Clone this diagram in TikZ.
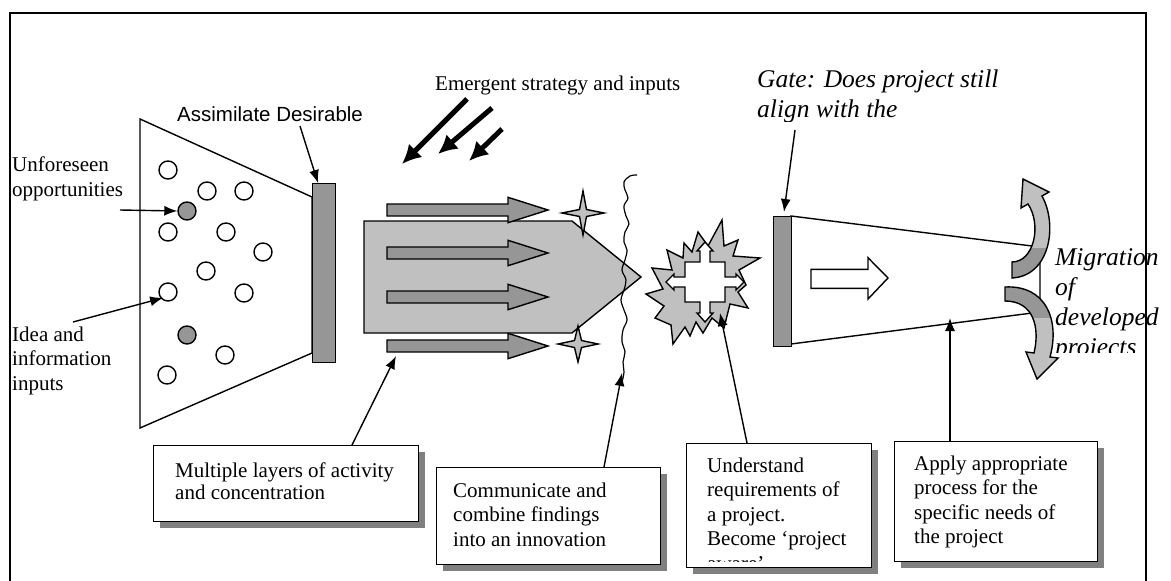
\documentclass[tikz,border=0pt]{standalone}
\usepackage{fontspec}
\setmainfont{Liberation Serif}
\newfontfamily\arialf{Liberation Sans}
\usetikzlibrary{arrows.meta,shadows,calc}
\definecolor{dgray}{HTML}{969696}
\definecolor{lgray}{HTML}{C0C0C0}
\definecolor{sgray}{HTML}{808080}
\newcommand\rmtxt{\fontsize{21}{24.5}\selectfont}
\newcommand\rmtxtb{\fontsize{21}{22.5}\selectfont}
\newcommand\ittxt{\fontsize{25.5}{30}\selectfont\itshape}
\newcommand\sftxt{\arialf\fontsize{20.5}{24}\selectfont}
\begin{document}
\begin{tikzpicture}[x=1pt,y=-1pt,line join=miter,
  ln/.style={line width=1.4pt},
  arr/.style={line width=1.4pt,-{Latex[length=13pt,width=10pt]}},
  bigarr/.style={line width=5pt,-{Latex[length=19pt,width=19pt]}},
  dot/.style={circle,draw,line width=1.4pt,minimum size=18pt,inner sep=0pt,fill=white},
  dotf/.style={dot,fill=dgray},
  bar/.style={draw,line width=1.4pt,fill=dgray,inner sep=0pt,anchor=north west},
  box/.style={draw,line width=1.4pt,fill=white,inner sep=0pt,anchor=north west,
    drop shadow={shadow xshift=6pt,shadow yshift=-6pt,fill=sgray,opacity=1}},
  txt/.style={inner sep=0pt,anchor=north west,align=left},
  btxt/.style={inner sep=0pt,anchor=base west}]
\useasboundingbox (0,0) rectangle (1171,581);
% frame
\draw[line width=1.5pt] (10,581) -- (10,13) -- (1146,13) -- (1146,581);

% left funnel
\draw[ln,fill=white] (140,119) -- (312,197) -- (312,353) -- (140,428) -- cycle;
\node[bar,minimum width=23pt,minimum height=179pt] (gateL) at (312,183) {};
\node[dot]  (c1)  at (168,170) {};
\node[dot]  (c2)  at (207,191) {};
\node[dot]  (c3)  at (244,191) {};
\node[dotf] (c4)  at (187,211) {};
\node[dot]  (c5)  at (168,232) {};
\node[dot]  (c6)  at (226,232) {};
\node[dot]  (c7)  at (263,252) {};
\node[dot]  (c8)  at (206,271) {};
\node[dot]  (c9)  at (168,292) {};
\node[dot]  (c10) at (244,293) {};
\node[dotf] (c11) at (187,335) {};
\node[dot]  (c12) at (225,355) {};
\node[dot]  (c13) at (167,375) {};

% left texts
\node[btxt,font=\sftxt] (assim) at (177,121) {Assimilate Desirable};
\node[txt,font=\rmtxt] (unf) at (12,{171.7-17.15}) {\strut Unforeseen\\opportunities};
\node[txt,font=\rmtxt] (idea) at (12,{341-17.15}) {\strut Idea and\\information\\inputs};
\coordinate (assimS) at (300,126);
\coordinate (unfE) at (120,210);
\coordinate (ideaE) at (73,322);
\draw[arr] (assimS) -- ($(gateL.north west)+(6,0)$);
\draw[arr] (unfE) -- (c4.west);
\draw[arr] (ideaE) -- ($(c9.south west)+(2,-1)$);

% emergent strategy
\node[btxt,font=\rmtxt] (emer) at (435,90) {Emergent strategy and inputs};
\coordinate (e1s) at (467,99);  \coordinate (e1t) at (402,164);
\coordinate (e2s) at (492,108); \coordinate (e2t) at (438,154);
\coordinate (e3s) at (502,129); \coordinate (e3t) at (469,161);
\draw[bigarr] (e1s) -- (e1t);
\draw[bigarr] (e2s) -- (e2t);
\draw[bigarr] (e3s) -- (e3t);

% big pentagon and layer arrows
\draw[ln,fill=lgray] (364,221) -- (572,221) -- (641,277) -- (572,333) -- (364,333) -- cycle;
\foreach \c in {210,253,297,346}{
  \draw[ln,fill=dgray] (387,\c-6) -- (508,\c-6) -- (508,\c-12.7) -- (548,\c) -- (508,\c+12.7) -- (508,\c+6) -- (387,\c+6) -- cycle;
}
\coordinate (m4) at (396,356);
% stars
\draw[ln,fill=lgray] (583,191) -- (586.5,209.5) -- (604,213) -- (586.5,216.5) -- (583,235) -- (579.5,216.5) -- (562,213) -- (579.5,209.5) -- cycle;
\draw[ln,fill=lgray] (578,326) -- (581.5,340.5) -- (598,344) -- (581.5,347.5) -- (578,362) -- (574.5,347.5) -- (558,344) -- (574.5,340.5) -- cycle;
% wavy line
\draw[line width=1.2pt] plot[smooth,tension=0.6] coordinates {(637,175) (630,176) (624,182) (625,190) (628,198) (624,206) (626,216) (629,224) (625,232) (624,242) (627,250) (625,260) (622,270) (626,280) (624,290) (621,300) (624,310) (627,320) (623,330) (622,342) (625,352) (623,362) (624,372) (622,382)};
\coordinate (wav) at (622,373);

% explosion
\draw[ln,fill=lgray] (722,220) -- (724,246) -- (738,240) -- (733,256) -- (760,258) -- (739,270) -- (746,285) -- (738,292) -- (748,308) -- (730,304) -- (724,328) -- (712,318) -- (703,333) -- (696,322) -- (690,336) -- (685,327) -- (673,344) -- (671,325) -- (655,318) -- (664,306) -- (646,294) -- (663,289) -- (652,268) -- (672,270) -- (667,250) -- (683,258) -- (684,243) -- (692,252) -- (698,232) -- (708,246) -- cycle;
\begin{scope}[shift={(705,282)}]
\draw[ln,fill=white] (0,-40) -- (8,-31) -- (5,-31) -- (5,-20) -- (20,-20) -- (20,-5) -- (31,-5) -- (31,-8) -- (39,0) -- (31,8) -- (31,5) -- (20,5) -- (20,20) -- (5,20) -- (5,31) -- (8,31) -- (0,40) -- (-8,31) -- (-5,31) -- (-5,20) -- (-20,20) -- (-20,5) -- (-31,5) -- (-31,8) -- (-39,0) -- (-31,-8) -- (-31,-5) -- (-20,-5) -- (-20,-20) -- (-5,-20) -- (-5,-31) -- (-8,-31) -- cycle;
\end{scope}
\coordinate (expl) at (720,313);

% right funnel
\draw[ln,fill=white] (791,216) -- (1040,247) -- (1040,312) -- (791,344) -- cycle;
\node[bar,minimum width=18pt,minimum height=130pt] (gateR) at (773,216) {};
\draw[ln,fill=white] (811,269.3) -- (868,269.3) -- (868,257.7) -- (888,278) -- (868,299) -- (868,288.3) -- (811,288.3) -- cycle;
\coordinate (trapB) at (950,318);

% curved arrows
\begin{scope}
\clip (1012,278) .. controls (1050,276) and (1058,225) .. (1042,196) -- (1049,192) -- (1023,179) -- (1021,208) -- (1028,204) .. controls (1042,225) and (1034,262) .. (1012,262) -- cycle;
\fill[lgray] (990,170) rectangle (1070,290);
\fill[dgray] (990,248) rectangle (1070,290);
\end{scope}
\draw[ln] (1012,278) .. controls (1050,276) and (1058,225) .. (1042,196) -- (1049,192) -- (1023,179) -- (1021,208) -- (1028,204) .. controls (1042,225) and (1034,262) .. (1012,262) -- cycle;
\begin{scope}
\clip (1005,287) .. controls (1046,285) and (1060,320) .. (1050,357) -- (1058,358) -- (1037,379) -- (1026,352) -- (1034,353) .. controls (1040,328) and (1034,301) .. (1005,301) -- cycle;
\fill[lgray] (990,280) rectangle (1070,390);
\fill[dgray] (990,280) rectangle (1070,318);
\end{scope}
\draw[ln] (1005,287) .. controls (1046,285) and (1060,320) .. (1050,357) -- (1058,358) -- (1037,379) -- (1026,352) -- (1034,353) .. controls (1040,328) and (1034,301) .. (1005,301) -- cycle;

% gate label
\begin{scope}
\clip (700,40) rectangle (1100,121.5);
\node[txt,font=\ittxt] (gatetxt) at (757,{87-21}) {\strut Gate: Does project still\\align with the};
\end{scope}
\coordinate (gateS) at (795,130);
\draw[arr] (gateS) -- ($(gateR.north west)+(11,-4)$);

% migration label
\begin{scope}
\clip (1050,230) rectangle (1171,352);
\node[txt,font=\ittxt] (migr) at (1055,{265.7-21}) {\strut Migration\\of\\developed\\projects};
\end{scope}

% bottom boxes
\node[box,minimum width=265pt,minimum height=76pt] (b1) at (153,445) {};
\node[txt,font=\rmtxtb] (t1) at (175,{477-15.75}) {\strut Multiple layers of activity\\and concentration};
\node[box,minimum width=224pt,minimum height=97pt] (b2) at (436,467) {};
\node[txt,font=\rmtxt] (t2) at (453,{497-17.15}) {\strut Communicate and\\combine findings\\into an innovation};
\node[box,minimum width=185pt,minimum height=124pt] (b3) at (686,443) {};
\begin{scope}
\clip (687,444) rectangle (870,561);
\node[txt,font=\rmtxt] (t3) at (707,{472-17.15}) {\strut Understand\\requirements of\\a project.\\Become `project\\aware'};
\end{scope}
\node[box,minimum width=203pt,minimum height=120pt] (b4) at (894,441) {};
\node[txt,font=\rmtxt] (t4) at (914,{470-17.15}) {\strut Apply appropriate\\process for the\\specific needs of\\the project};

% connectors from boxes
\draw[arr] ($(b1.north west)+(199,0)$) -- (m4);
\draw[arr] ($(b2.north west)+(168,0)$) -- (wav);
\draw[arr] ($(b3.north west)+(61,0)$) -- (expl);
\draw[arr] ($(b4.north west)+(56,0)$) -- (trapB);
\end{tikzpicture}
\end{document}
